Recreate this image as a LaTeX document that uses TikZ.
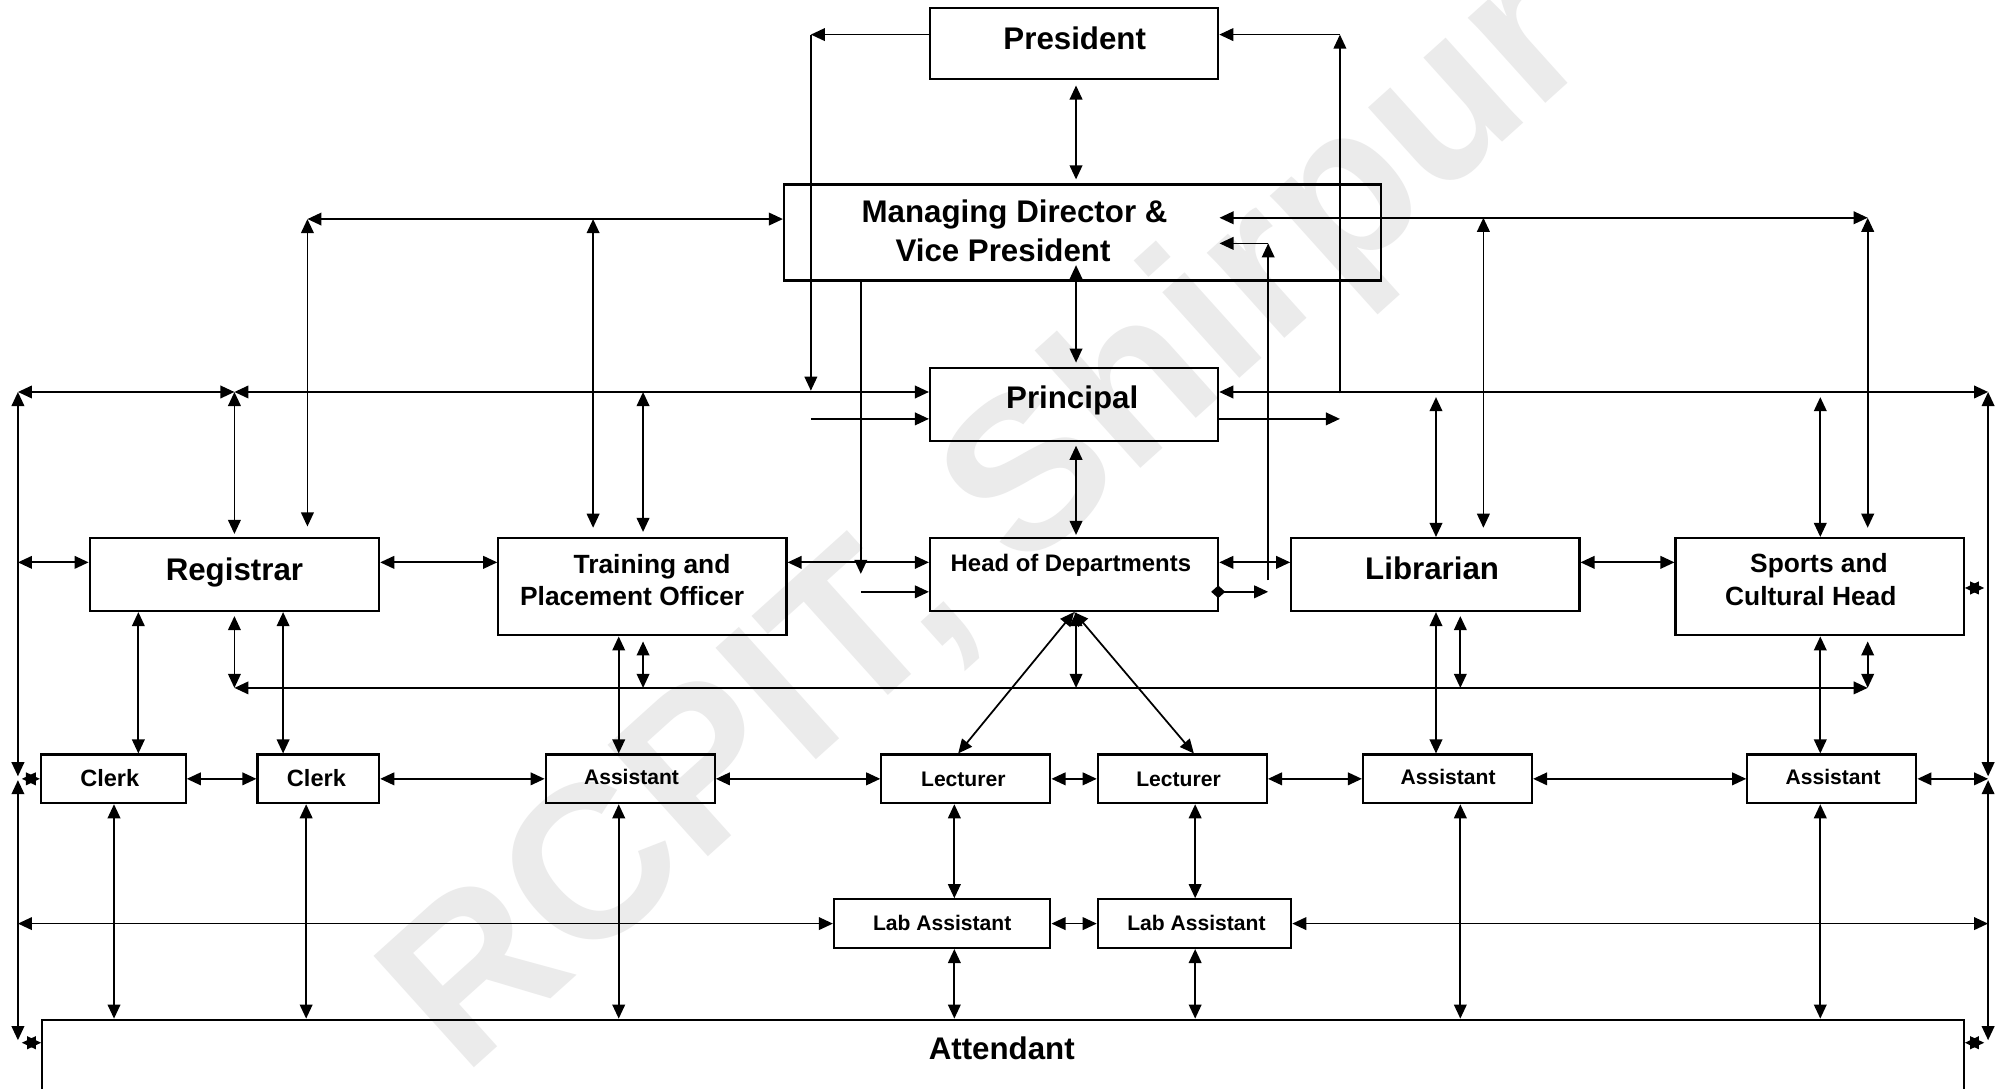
\documentclass[tikz,border=0pt]{standalone}
\usepackage{fontspec}
\setmainfont{Liberation Sans}
\usetikzlibrary{arrows.meta}
\newcommand{\mkbox}[5]{\node[box, minimum width={(#4-#2)*0.1281mm}, minimum height={(#5-#3)*0.1281mm}] (#1) at ({(#2+#4)/2},{(#3+#5)/2}) {};}
\tikzset{
  box/.style={draw, line width=0.6pt, inner sep=0pt},
  ln/.style={line width=0.5pt},
  dbl/.style={ln, {Triangle[length=4pt,width=3.6pt]}-{Triangle[length=4pt,width=3.6pt]}},
  fwd/.style={ln, -{Triangle[length=4pt,width=3.6pt]}},
  dia/.style={ln, {Diamond[length=4pt,width=3.6pt]}-{Triangle[length=4pt,width=3.6pt]}},
  txt/.style={anchor=base, inner sep=0pt},
  fA/.style={txt, font=\bfseries\fontsize{8.9}{10}\selectfont},
  fB/.style={txt, font=\bfseries\fontsize{7.5}{9}\selectfont},
  fC/.style={txt, font=\bfseries\fontsize{6.8}{8}\selectfont},
  fD/.style={txt, font=\bfseries\fontsize{6.7}{8}\selectfont},
  fE/.style={txt, font=\bfseries\fontsize{6}{7}\selectfont},
}
\begin{document}
\begin{tikzpicture}[x=0.1281mm, y=-0.1281mm]
\useasboundingbox (0,0) rectangle (1565.2,850.1);
\clip (0,0) rectangle (1565.2,850.1);
\fill[white] (0,0) rectangle (1565.2,850.1);
% watermark
\node[rotate=42, text=black!8, font=\bfseries\fontsize{62}{62}\selectfont] (wm) at (775,410) {RCPIT, Shirpur};
% boxes
\mkbox{pres}{726}{6}{951}{62}
\mkbox{md}{612}{144}{1078}{219}
\mkbox{prin}{726}{287}{951}{344}
\mkbox{reg}{70}{420}{296}{477}
\mkbox{tpo}{389}{420}{614}{496}
\mkbox{hod}{726}{420}{951}{477}
\mkbox{lib}{1008}{420}{1233}{477}
\mkbox{spo}{1308}{420}{1533}{496}
\mkbox{clerkA}{32}{589}{145}{627}
\mkbox{clerkB}{201}{589}{296}{627}
\mkbox{asstA}{426}{589}{558}{627}
\mkbox{lecA}{688}{589}{820}{627}
\mkbox{lecB}{857}{589}{989}{627}
\mkbox{asstB}{1064}{589}{1196}{627}
\mkbox{asstC}{1364}{589}{1496}{627}
\mkbox{labA}{651}{702}{820}{740}
\mkbox{labB}{857}{702}{1008}{740}
\mkbox{att}{33}{796}{1533}{880}
% texts
\node[fA] (presT) at (839,39) {President};
\node[fA] (mdT1) at (792,174) {Managing Director \&};
\node[fA] (mdT2) at (783,204.5) {Vice President};
\node[fA] (prinT) at (837,318.6) {Principal};
\node[fA] (regT) at (183,452.8) {Registrar};
\node[fB] (tpoT1) at (509,447.5) {Training and};
\node[fB] (tpoT2) at (493.5,472.3) {Placement Officer};
\node[fC] (hodT) at (836,446.3) {Head of Departments};
\node[fA] (libT) at (1118,452) {Librarian};
\node[fB] (spoT1) at (1420,446.8) {Sports and};
\node[fB] (spoT2) at (1413.6,472.3) {Cultural Head};
\node[fD] (clerkAT) at (85.7,614.1) {Clerk};
\node[fD] (clerkBT) at (247,614.1) {Clerk};
\node[fE] (asstAT) at (493,612.8) {Assistant};
\node[fE] (lecAT) at (752,613.6) {Lecturer};
\node[fE] (lecBT) at (920,613.6) {Lecturer};
\node[fE] (asstBT) at (1130.5,612.8) {Assistant};
\node[fE] (asstCT) at (1431,612.8) {Assistant};
\node[fE] (labAT) at (735.5,726) {Lab Assistant};
\node[fE] (labBT) at (934,726) {Lab Assistant};
\node[fA] (attT) at (782,827) {Attendant};
% coordinates
\coordinate (pL) at (633,27);
\coordinate (pLd) at (633,305);
\coordinate (pR) at (1046,27);
\coordinate (pRd) at (1046,307);
\coordinate (x840) at (840,0);
\coordinate (mdA) at (840,207);
\coordinate (mdL) at (240,171);
\coordinate (c240b) at (240,411);
\coordinate (c463t) at (463,171);
\coordinate (c463b) at (463,412);
\coordinate (c502t) at (502,306);
\coordinate (x502) at (502,0);
\coordinate (x672) at (672,0);
\coordinate (c672b) at (672,448);
\coordinate (c672s) at (672,462);
\coordinate (L306) at (14,306);
\coordinate (lm) at (183,306);
\coordinate (c633s) at (633,327);
\coordinate (R306) at (1552,306);
\coordinate (c1046s) at (1046,327);
\coordinate (L606) at (14,606);
\coordinate (L609) at (14,609);
\coordinate (L812) at (14,812);
\coordinate (R606) at (1552,606);
\coordinate (R609) at (1552,609);
\coordinate (R812) at (1552,812);
\coordinate (L439) at (14,439);
\coordinate (L721) at (14,721);
\coordinate (R608) at (1552,608);
\coordinate (R721) at (1552,721);
\coordinate (s1) at (17,608);
\coordinate (s2) at (17,814);
\coordinate (s3) at (1549,459);
\coordinate (s4) at (1549,814);
\coordinate (x108) at (108,0);
\coordinate (x221) at (221,0);
\coordinate (H537L) at (183,537);
\coordinate (H537R) at (1458,537);
\coordinate (x483) at (483,0);
\coordinate (c502b) at (502,537);
\coordinate (c840b) at (840,537);
\coordinate (x748) at (748,0);
\coordinate (x932) at (932,0);
\coordinate (c990b) at (990,453);
\coordinate (c990t) at (990,190);
\coordinate (mdR2) at (952,190);
\coordinate (hodD) at (945.5,462);
\coordinate (c990s) at (990,462);
\coordinate (mdR1) at (952,170);
\coordinate (mdR1e) at (1458,170);
\coordinate (c1158t) at (1158,170);
\coordinate (c1158b) at (1158,412);
\coordinate (c1458t) at (1458,170);
\coordinate (c1458b) at (1458,412);
\coordinate (c1121t) at (1121,310);
\coordinate (x1121) at (1121,0);
\coordinate (c1421t) at (1421,310);
\coordinate (x1421) at (1421,0);
\coordinate (x1140) at (1140,0);
\coordinate (c1140b) at (1140,537);
\coordinate (x1458) at (1458,0);
\coordinate (x89) at (89,0);
\coordinate (x239) at (239,0);
\coordinate (x745) at (745,0);
\coordinate (x933) at (933,0);
% top connectors
\draw[fwd] (pres.west |- pL) -- (pL);
\draw[fwd] (pL) -- (pLd);
\draw[fwd] (pRd) -- (pR);
\draw[fwd] (pR) -- (pres.east |- pR);
\draw[dbl, shorten <=0.5mm, shorten >=0.4mm] (pres.south -| x840) -- (md.north -| x840);
\draw[dbl, shorten >=0.4mm] (mdA) -- (prin.north -| x840);
\draw[dbl, shorten <=0.4mm, shorten >=0.2mm] (prin.south -| x840) -- (hod.north -| x840);
\draw[dbl] (mdL) -- (md.west |- mdL);
\draw[dbl] (mdL) -- (c240b);
\draw[dbl] (c463t) -- (c463b);
\draw[dbl, shorten >=0.5mm] (c502t) -- (tpo.north -| x502);
\draw[fwd] (md.south -| x672) -- (c672b);
\draw[fwd] (c672s) -- (hod.west |- c672s);
\draw[dbl] (L306) -- (lm);
\draw[dbl] (lm) -- (prin.west |- lm);
\draw[dbl, shorten >=0.3mm] (lm) -- (reg.north);
\draw[fwd] (c633s) -- (prin.west |- c633s);
\draw[dbl] (prin.east |- R306) -- (R306);
\draw[fwd] (prin.east |- c1046s) -- (c1046s);
% borders
\draw[dbl] (L306) -- (L606);
\draw[dbl] (L609) -- (L812);
\draw[dbl] (R306) -- (R606);
\draw[dbl] (R609) -- (R812);
\draw[dbl] (L439) -- (reg.west |- L439);
\draw[dbl] (L721) -- (labA.west |- L721);
\draw[dbl] (s1) -- (clerkA.west |- s1);
\draw[dbl] (s2) -- (att.west |- s2);
\draw[dbl] (spo.east |- s3) -- (s3);
\draw[dbl] (att.east |- s4) -- (s4);
\draw[dbl] (asstC.east |- R608) -- (R608);
\draw[dbl] (labB.east |- R721) -- (R721);
% middle row
\draw[dbl] (reg.east |- L439) -- (tpo.west |- L439);
\draw[dbl] (tpo.east |- L439) -- (hod.west |- L439);
\draw[dbl] (hod.east |- L439) -- (lib.west |- L439);
\draw[dbl] (lib.east |- L439) -- (spo.west |- L439);
\draw[fwd] (c990b) -- (c990t);
\draw[fwd] (c990t) -- (mdR2);
\draw[dia] (hodD) -- (c990s);
\draw[dbl] (mdR1) -- (mdR1e);
\draw[dbl] (c1158t) -- (c1158b);
\draw[dbl] (c1458t) -- (c1458b);
\draw[dbl] (c1121t) -- (lib.north -| x1121);
\draw[dbl] (c1421t) -- (spo.north -| x1421);
% below row
\draw[dbl] (reg.south -| x108) -- (clerkA.north -| x108);
\draw[dbl] (reg.south -| x221) -- (clerkB.north -| x221);
\draw[dbl, shorten <=0.4mm] (reg.south) -- (H537L);
\draw[dbl] (H537L) -- (H537R);
\draw[dbl] (tpo.south -| x483) -- (asstA.north -| x483);
\draw[dbl, shorten <=0.5mm] (tpo.south -| x502) -- (c502b);
\draw[dbl] (hod.south -| x840) -- (c840b);
\draw[dbl] (hod.south) -- (lecA.north -| x748);
\draw[dbl] (hod.south) -- (lecB.north -| x932);
\draw[dbl] (lib.south -| x1121) -- (asstB.north -| x1121);
\draw[dbl, shorten <=0.4mm] (lib.south -| x1140) -- (c1140b);
\draw[dbl] (spo.south -| x1421) -- (asstC.north -| x1421);
\draw[dbl, shorten <=0.5mm] (spo.south -| x1458) -- (H537R);
% clerk row
\draw[dbl] (clerkA.east) -- (clerkB.west);
\draw[dbl] (clerkB.east) -- (asstA.west);
\draw[dbl] (asstA.east) -- (lecA.west);
\draw[dbl] (lecA.east) -- (lecB.west);
\draw[dbl] (lecB.east) -- (asstB.west);
\draw[dbl] (asstB.east) -- (asstC.west);
\draw[dbl] (labA.east) -- (labB.west);
% down
\draw[dbl] (clerkA.south -| x89) -- (att.north -| x89);
\draw[dbl] (clerkB.south -| x239) -- (att.north -| x239);
\draw[dbl] (asstA.south -| x483) -- (att.north -| x483);
\draw[dbl] (lecA.south -| x745) -- (labA.north -| x745);
\draw[dbl] (lecB.south -| x933) -- (labB.north -| x933);
\draw[dbl] (labA.south -| x745) -- (att.north -| x745);
\draw[dbl] (labB.south -| x933) -- (att.north -| x933);
\draw[dbl] (asstB.south -| x1140) -- (att.north -| x1140);
\draw[dbl] (asstC.south -| x1421) -- (att.north -| x1421);
\end{tikzpicture}
\end{document}
